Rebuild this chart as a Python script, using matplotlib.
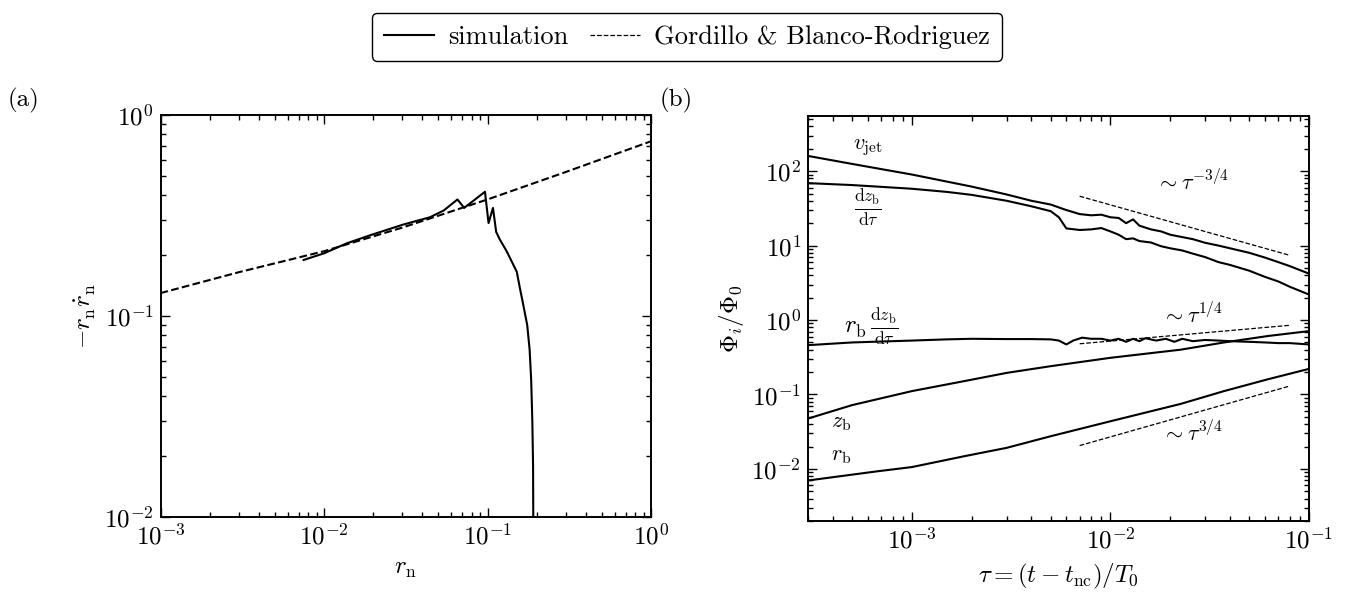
import numpy as np
import matplotlib
matplotlib.use("Agg")
import matplotlib.pyplot as plt

# Computer Modern look
plt.rcParams['font.family'] = 'serif'
plt.rcParams['font.serif'] = ['cmr10']
plt.rcParams['mathtext.fontset'] = 'cm'
plt.rcParams['axes.formatter.use_mathtext'] = True
plt.rcParams['font.size'] = 18

# ---- panel (a) data ----
rn_model = [1e-3, 3e-3, 1e-2, 3e-2, 1e-1, 3e-1, 1.0]
vel_model = [0.13, 0.165, 0.21, 0.275, 0.38, 0.52, 0.74]

rn_sim = [7.5e-3, 1.0e-2, 1.38e-2, 1.91e-2, 3.05e-2, 4.45e-2, 5.4e-2, 6.55e-2, 7.2e-2,
          9.65e-2, 0.1015, 0.108, 0.113, 0.119, 0.131, 0.151, 0.158, 0.165, 0.175,
          0.181, 0.185, 0.188, 0.190, 0.1905]
vel_sim = [0.19, 0.205, 0.23, 0.252, 0.285, 0.31, 0.335, 0.38, 0.345,
           0.415, 0.29, 0.345, 0.262, 0.24, 0.21, 0.166, 0.137, 0.115, 0.09,
           0.068, 0.048, 0.03, 0.018, 0.0099]

# ---- panel (b) data ----
tau_vjet = [3.0e-4, 5e-4, 1e-3, 2e-3, 3e-3, 4e-3, 5e-3, 6e-3, 7e-3, 8e-3, 9e-3,
            1.0e-2, 1.1e-2, 1.2e-2, 1.3e-2, 1.4e-2, 1.6e-2, 1.8e-2, 2.0e-2, 2.3e-2,
            2.6e-2, 3.0e-2, 3.5e-2, 4e-2, 5e-2, 6e-2, 7e-2, 8e-2, 0.1]
vjet = [160, 125, 90, 62, 48.6, 40, 35.6, 30, 26.5, 25.5, 26,
        24, 23.5, 20, 22.5, 18.5, 16.5, 15.5, 14, 13,
        12.2, 10.9, 10.0, 9.2, 8.0, 6.9, 6.0, 5.3, 4.2]

tau_dzb = [3.0e-4, 5e-4, 1e-3, 1.5e-3, 2e-3, 3e-3, 4e-3, 5e-3, 5.5e-3, 6e-3, 7e-3,
           8e-3, 9e-3, 1e-2, 1.1e-2, 1.2e-2, 1.3e-2, 1.4e-2, 1.6e-2, 1.8e-2, 2e-2,
           2.3e-2, 2.6e-2, 3e-2, 3.5e-2, 4e-2, 5e-2, 6e-2, 7e-2, 8e-2, 0.1]
dzb = [69, 65, 58, 52.6, 48, 40, 33.7, 29, 24, 17, 16.2,
       16.5, 17.2, 15.5, 14.0, 12.2, 12.5, 11.5, 11.0, 9.8, 9.2,
       8.6, 7.8, 7.0, 6.0, 5.5, 4.6, 3.8, 3.3, 2.8, 2.2]

tau_rdz = [3.0e-4, 5e-4, 1e-3, 1.5e-3, 2e-3, 3e-3, 4e-3, 5e-3, 5.5e-3, 6e-3, 6.5e-3,
           7.2e-3, 8e-3, 9e-3, 1e-2, 1.1e-2, 1.2e-2, 1.3e-2, 1.4e-2, 1.5e-2, 1.7e-2,
           1.9e-2, 2.1e-2, 2.3e-2, 2.6e-2, 3e-2, 3.5e-2, 4e-2, 5e-2, 6e-2, 7e-2, 8e-2, 0.1]
rdz = [0.46, 0.50, 0.53, 0.55, 0.56, 0.555, 0.555, 0.55, 0.53, 0.47, 0.53,
       0.58, 0.56, 0.56, 0.53, 0.56, 0.51, 0.56, 0.52, 0.57, 0.53,
       0.56, 0.51, 0.56, 0.52, 0.54, 0.53, 0.52, 0.51, 0.50, 0.49, 0.49, 0.47]

tau_zb = [3.0e-4, 5e-4, 1e-3, 1.83e-3, 3e-3, 5e-3, 1e-2, 2.26e-2, 3.73e-2, 6.2e-2, 0.1]
zb = [0.0475, 0.072, 0.111, 0.151, 0.195, 0.24, 0.311, 0.40, 0.50, 0.61, 0.71]

tau_rb = [3.0e-4, 6.7e-4, 1e-3, 1.83e-3, 3e-3, 5e-3, 1e-2, 2.26e-2, 3.73e-2, 6.2e-2, 0.1]
rb = [0.0070, 0.0093, 0.0106, 0.0148, 0.0192, 0.0275, 0.0437, 0.0748, 0.111, 0.16, 0.221]

# guide lines (end points)
guide_tau = [7e-3, 8e-2]
guide_m34 = [46, 7.4]
guide_p14 = [0.48, 0.85]
guide_p34 = [0.0206, 0.13]


def style_axis(ax):
    ax.set_xscale('log')
    ax.set_yscale('log')
    ax.tick_params(which='both', direction='in', top=True, right=True, labelsize=18)
    ax.tick_params(which='major', length=6.5, width=1.0, pad=5)
    ax.tick_params(which='minor', length=3.6, width=1.0)
    for s in ax.spines.values():
        s.set_linewidth(1.4)


W, H = 1351, 597
fig = plt.figure(figsize=(W / 100, H / 100), dpi=100)
ax1 = fig.add_axes([160.5 / W, 1 - 517 / H, 490.5 / W, 402 / H])
ax2 = fig.add_axes([808 / W, 1 - 521 / H, 501 / W, 405 / H])

# panel (a)
style_axis(ax1)
ax1.plot(rn_sim, vel_sim, color='black', lw=1.5)
ax1.plot(rn_model, vel_model, color='black', lw=1.5, ls='--')
ax1.set_xlim(1e-3, 1)
ax1.set_ylim(1e-2, 1)
ax1.set_xlabel(r'$r_\mathrm{n}$', fontsize=18, labelpad=6)
ax1.set_ylabel(r'$-r_\mathrm{n}\dot{r}_\mathrm{n}$', fontsize=18)

# panel (b)
style_axis(ax2)
for t, v in [(tau_vjet, vjet), (tau_dzb, dzb), (tau_rdz, rdz), (tau_zb, zb), (tau_rb, rb)]:
    ax2.plot(t, v, color='black', lw=1.5)
for g in [guide_m34, guide_p14, guide_p34]:
    ax2.plot(guide_tau, g, color='black', lw=0.9, ls='--')
ax2.set_xlim(3e-4, 1e-1)
ax2.set_ylim(2e-3, 5.5e2)
ax2.set_xlabel(r'$\tau = (t - t_\mathrm{nc})/T_0$', fontsize=18, labelpad=6)
ax2.set_ylabel(r'$\Phi_i/\Phi_0$', fontsize=18)

fs = 16
ax2.text(6.0e-4, 205, r'$v_\mathrm{jet}$', fontsize=fs, ha='center', va='center')
ax2.text(6.0e-4, 32, r'$\frac{\mathrm{d}z_\mathrm{b}}{\mathrm{d}\tau}$', fontsize=fs + 2, ha='center', va='center')
ax2.text(6.2e-4, 0.81, r'$r_\mathrm{b}\,\frac{\mathrm{d}z_\mathrm{b}}{\mathrm{d}\tau}$', fontsize=fs + 2, ha='center', va='center')
ax2.text(4.4e-4, 0.0416, r'$z_\mathrm{b}$', fontsize=fs, ha='center', va='center')
ax2.text(4.4e-4, 0.0148, r'$r_\mathrm{b}$', fontsize=fs, ha='center', va='center')
ax2.text(2.6e-2, 73, r'$\sim\tau^{-3/4}$', fontsize=fs, ha='center', va='center')
ax2.text(2.6e-2, 1.2, r'$\sim\tau^{1/4}$', fontsize=fs, ha='center', va='center')
ax2.text(2.6e-2, 0.0305, r'$\sim\tau^{3/4}$', fontsize=fs, ha='center', va='center')

fig.text(8 / W, 1 - 100 / H, '(a)', fontsize=18, ha='left', va='center')
fig.text(660 / W, 1 - 100 / H, '(b)', fontsize=18, ha='left', va='center')

h1, = ax1.plot([], [], color='black', lw=1.5, label='simulation')
h2, = ax1.plot([], [], color='black', lw=0.9, ls='--', label='Gordillo & Blanco-Rodriguez')
fig.legend(handles=[h1, h2], loc='upper center', bbox_to_anchor=(0.5085, 1.0), ncol=2,
           fontsize=19, frameon=True, fancybox=True, edgecolor='black', framealpha=1,
           borderpad=0.45, columnspacing=0.8, handletextpad=0.55, handlelength=1.9)

fig.savefig('out.png', dpi=100)
